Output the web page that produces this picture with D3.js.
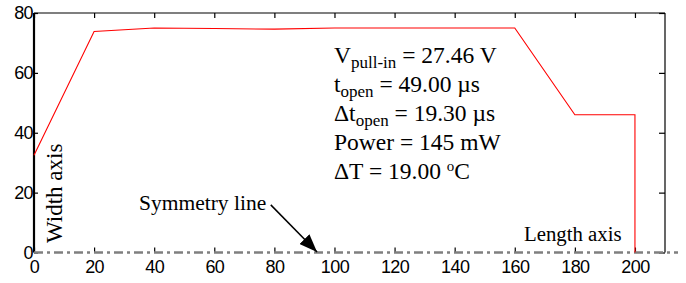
<!DOCTYPE html>
<html>
<head>
<meta charset="utf-8">
<style>
  body { margin: 0; background: #fff; }
  svg { display: block; }
  .tick text { font-family: "Liberation Sans", Arial, sans-serif; font-size: 18px; letter-spacing: -0.6px; fill: #000; }
  .note { font-family: "Liberation Serif", "Times New Roman", serif; fill: #000; }
</style>
</head>
<body>
<svg id="chart" width="686" height="283"></svg>

<script src="https://d3js.org/d3.v7.min.js"></script>
<script>
  // heater profile along the beam: length (x) vs width (y)
  const lengths = [0, 20, 40, 60, 80, 100, 120, 140, 160, 180, 200, 200]
  const widths = [32.5, 73.8, 75, 74.8, 74.6, 75, 75, 75, 75, 46, 46, 0]

  const xTicks = [0, 20, 40, 60, 80, 100, 120, 140, 160, 180, 200]
  const yTicks = [0, 20, 40, 60, 80]

  const W = 686, H = 283
  const margin = { top: 13, right: 21, bottom: 30.5, left: 34 }

  const svg = d3.select('#chart')

  const x = d3.scaleLinear()
    .domain([0, 210])
    .range([margin.left, W - margin.right])
  const y = d3.scaleLinear()
    .domain([0, 80])
    .range([H - margin.bottom, margin.top])

  // top border with inward ticks
  svg.append('g')
    .attr('transform', `translate(0,${margin.top})`)
    .call(d3.axisTop(x).tickValues(xTicks).tickSize(-5).tickFormat(''))
    .call(g => g.selectAll('line,path').attr('stroke', '#000').attr('stroke-width', 1.2))
    .call(g => g.select('.domain').attr('d', `M${margin.left},0H${W - margin.right}`))

  // right border with inward ticks
  svg.append('g')
    .attr('transform', `translate(${W - margin.right},0)`)
    .call(d3.axisRight(y).tickValues(yTicks).tickSize(-6).tickFormat(''))
    .call(g => g.selectAll('line,path').attr('stroke', '#000').attr('stroke-width', 1.2))
    .call(g => g.select('.domain').attr('d', `M0,${margin.top}V${H - margin.bottom}`))

  // bottom axis: ticks and labels only, the symmetry line sits on it
  svg.append('g')
    .attr('transform', `translate(0,${H - margin.bottom})`)
    .call(d3.axisBottom(x).tickValues(xTicks).tickSize(-5).tickPadding(8))
    .call(g => g.select('.domain').remove())
    .call(g => g.selectAll('.tick line').attr('stroke', '#000').attr('stroke-width', 1.2))

  // left axis
  svg.append('g')
    .attr('transform', `translate(${margin.left},0)`)
    .call(d3.axisLeft(y).tickValues(yTicks).tickSize(-4).tickPadding(1))
    .call(g => g.select('.domain').attr('d', `M0,${margin.top}V${H - margin.bottom}`)
      .attr('stroke', '#000').attr('stroke-width', 2.2))
    .call(g => g.selectAll('.tick line').attr('stroke', '#000').attr('stroke-width', 1.2))

  // symmetry line (dash-dot), runs past the right border
  svg.append('line')
    .attr('x1', x(0)).attr('x2', W - 8)
    .attr('y1', y(0)).attr('y2', y(0))
    .attr('stroke', '#7f7f7f')
    .attr('stroke-width', 2.5)
    .attr('stroke-dasharray', '9,4,3,4')

  // profile
  const line = d3.line()
    .x((d, i) => x(lengths[i]))
    .y(d => y(d))
  svg.append('path')
    .datum(widths)
    .attr('d', line)
    .attr('fill', 'none')
    .attr('stroke', '#ff0000')
    .attr('stroke-width', 1.1)

  // arrow pointing at the symmetry line
  svg.append('defs').append('marker')
    .attr('id', 'head')
    .attr('viewBox', '0 0 18 14')
    .attr('refX', 18).attr('refY', 7)
    .attr('markerWidth', 18).attr('markerHeight', 14)
    .attr('markerUnits', 'userSpaceOnUse')
    .attr('orient', 'auto')
    .append('path')
    .attr('d', 'M0,0L18,7L0,14Z')
    .attr('fill', '#000')

  svg.append('line')
    .attr('x1', x(78.8)).attr('y1', y(15.9))
    .attr('x2', x(94.2)).attr('y2', y(0.2))
    .attr('stroke', '#000')
    .attr('stroke-width', 1.5)
    .attr('marker-end', 'url(#head)')

  svg.append('text')
    .attr('class', 'note')
    .attr('x', 139).attr('y', 210)
    .attr('font-size', 21.5)
    .text('Symmetry line')

  svg.append('text')
    .attr('class', 'note')
    .attr('x', 524).attr('y', 241)
    .attr('font-size', 20.8)
    .text('Length axis')

  svg.append('text')
    .attr('class', 'note')
    .attr('transform', 'translate(62,243) rotate(-90)')
    .attr('font-size', 23)
    .text('Width axis')

  // parameter block
  const params = [
    { main: 'V', sub: 'pull-in', rest: ' = 27.46 V' },
    { main: 't', sub: 'open', rest: ' = 49.00 \u00b5s' },
    { main: '\u0394t', sub: 'open', rest: ' = 19.30 \u00b5s' },
    { main: 'Power = 145 mW' },
    { main: '\u0394T = 19.00 ', sup: 'o', rest: 'C' }
  ]

  const block = svg.append('text')
    .attr('class', 'note')
    .attr('font-size', 23.5)

  params.forEach((p, i) => {
    block.append('tspan')
      .attr('x', 334).attr('y', 63 + i * 29)
      .text(p.main)
    if (p.sub) {
      block.append('tspan').attr('font-size', 17).attr('dy', 5).text(p.sub)
      block.append('tspan').attr('dy', -5).text(p.rest)
    }
    if (p.sup) {
      block.append('tspan').attr('font-size', 15).attr('dy', -8).text(p.sup)
      block.append('tspan').attr('dy', 8).text(p.rest)
    }
  })
</script>
</body>
</html>
